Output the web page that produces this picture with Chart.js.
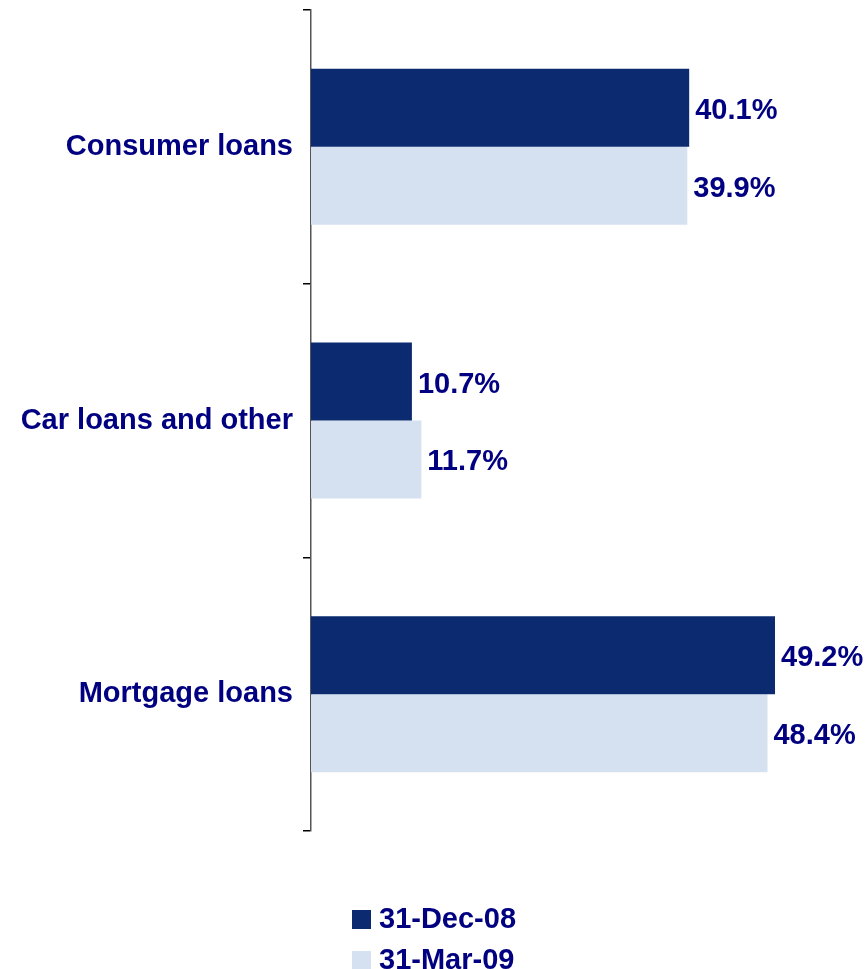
<!DOCTYPE html>
<html>
<head>
<meta charset="utf-8">
<script src="https://cdn.jsdelivr.net/npm/chart.js@4/dist/chart.umd.min.js"></script>
<style>
  html, body { margin: 0; padding: 0; background: #fff; }
  #wrap { position: relative; width: 867px; height: 969px; }
  #legend { position: absolute; left: 352px; top: 898px; font: bold 29px "Liberation Sans", Arial, sans-serif; color: #000080; }
  #legend div { height: 41px; line-height: 41px; white-space: nowrap; }
  #legend span.box { display: inline-block; width: 19px; height: 19px; margin-right: 8px; vertical-align: -1px; }
</style>
</head>
<body>
<div id="wrap">
  <canvas id="loans" width="867" height="969"></canvas>
  <div id="legend"></div>
</div>
<script>
const categories = ['Consumer loans', 'Car loans and other', 'Mortgage loans']
const dec08 = [40.1, 10.7, 49.2]
const mar09 = [39.9, 11.7, 48.4]
const seriesNames = ['31-Dec-08', '31-Mar-09']
const colors = ['#0b2a6f', '#d5e1f0']

const textColor = '#000080'
const font = '"Liberation Sans", Arial, sans-serif'

// value labels at the end of each bar
const barLabels = {
    id: 'barLabels',
    afterDatasetsDraw(chart) {
        const ctx = chart.ctx
        ctx.save()
        ctx.font = 'bold 29px ' + font
        ctx.fillStyle = textColor
        ctx.textAlign = 'left'
        ctx.textBaseline = 'middle'
        chart.data.datasets.forEach((ds, i) => {
            chart.getDatasetMeta(i).data.forEach((bar, j) => {
                ctx.fillText(ds.data[j].toFixed(1) + '%', bar.x + 6, bar.y + 3)
            })
        })
        ctx.restore()
    }
}

const chart = new Chart(document.querySelector('#loans'), {
    type: 'bar',
    data: {
        labels: categories,
        datasets: [
            { label: seriesNames[0], data: dec08, backgroundColor: colors[0] },
            { label: seriesNames[1], data: mar09, backgroundColor: colors[1] }
        ]
    },
    options: {
        indexAxis: 'y',
        responsive: false,
        animation: false,
        categoryPercentage: 0.57,
        barPercentage: 1.0,
        layout: { padding: { top: 10, bottom: 138, right: 9, left: 0 } },
        plugins: {
            legend: { display: false },
            tooltip: { enabled: false }
        },
        scales: {
            x: { display: false, min: 0, max: 58 },
            y: {
                afterFit: scale => {
                    scale.width = 311
                    scale.paddingTop = 0
                    scale.paddingBottom = 0
                },
                border: { display: true, color: '#555', width: 1.5 },
                grid: { offset: true, drawOnChartArea: false, drawTicks: true, tickLength: 8, color: '#000', lineWidth: 1.5 },
                ticks: { color: textColor, font: { family: font, size: 29, weight: 'bold' }, padding: 10 }
            }
        }
    },
    plugins: [barLabels]
})

const legend = document.querySelector('#legend')
seriesNames.forEach((name, i) => {
    const row = document.createElement('div')
    row.innerHTML = '<span class="box" style="background:' + colors[i] + '"></span>' + name
    legend.appendChild(row)
})
</script>
</body>
</html>
